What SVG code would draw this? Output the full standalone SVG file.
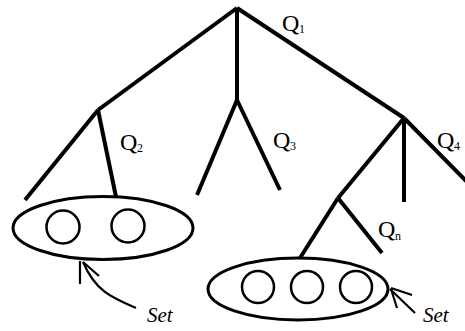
<svg xmlns="http://www.w3.org/2000/svg" width="465" height="331" viewBox="0 0 465 331">
<style>
.edge{stroke:#000;stroke-width:4;fill:none;stroke-linecap:butt}
.set{fill:#fff;stroke:#000;stroke-width:3}
.el{fill:#fff;stroke:#000;stroke-width:2.5}
.arr{stroke:#000;stroke-width:2.2;fill:none}
.q{font-family:"Liberation Serif",serif;font-size:24px;fill:#000}
.sub{font-family:"Liberation Serif",serif;font-size:12px;fill:#000}
.lbl{font-family:"Liberation Serif",serif;font-size:21px;font-style:italic;fill:#000}
</style>
<rect width="465" height="331" fill="#fff"/>
<g id="connectors">
<path class="edge" d="M237 8 L98 110"/>
<path class="edge" d="M237 8 L237 100"/>
<path class="edge" d="M237 8 L404 118"/>
<path class="edge" d="M98 110 L25 200"/>
<path class="edge" d="M98 110 L116 197"/>
<path class="edge" d="M237 100 L197 195"/>
<path class="edge" d="M237 100 L280 190"/>
<path class="edge" d="M404 118 L338 198"/>
<path class="edge" d="M404 118 L404 202"/>
<path class="edge" d="M404 118 L468 183"/>
<path class="edge" d="M338 198 L300 258"/>
<path class="edge" d="M338 198 L382 253"/>
</g>
<g id="set-left">
<ellipse class="set" cx="103" cy="228" rx="90" ry="31.5"/>
<circle class="el" cx="63" cy="227" r="16.5"/>
<circle class="el" cx="128" cy="226" r="16.5"/>
</g>
<g id="set-right">
<ellipse class="set" cx="298" cy="289" rx="90" ry="31"/>
<circle class="el" cx="258" cy="287" r="16"/>
<circle class="el" cx="307" cy="287" r="16"/>
<circle class="el" cx="356" cy="287" r="16"/>
</g>
<g id="arrow-left">
<path class="arr" d="M136 308 C110 297 95 290 83 262"/>
<path class="arr" d="M80 261 L80 284 M83 262 L99 276"/>
<text class="lbl" x="147" y="322">Set</text>
</g>
<g id="arrow-right">
<path class="arr" d="M390 289 L415 313"/>
<path class="arr" d="M391 288 L412 295 M391 289 L397 308"/>
<text class="lbl" x="423" y="322">Set</text>
</g>
<g id="labels">
<text class="q" x="282" y="31">Q</text><text class="sub" x="299" y="33">1</text>
<text class="q" x="120" y="150">Q</text><text class="sub" x="137" y="152">2</text>
<text class="q" x="273" y="148">Q</text><text class="sub" x="290" y="150">3</text>
<text class="q" x="437" y="148">Q</text><text class="sub" x="454" y="150">4</text>
<text class="q" x="378" y="237">Q</text><text class="sub" x="395" y="240">n</text>
</g>
</svg>
